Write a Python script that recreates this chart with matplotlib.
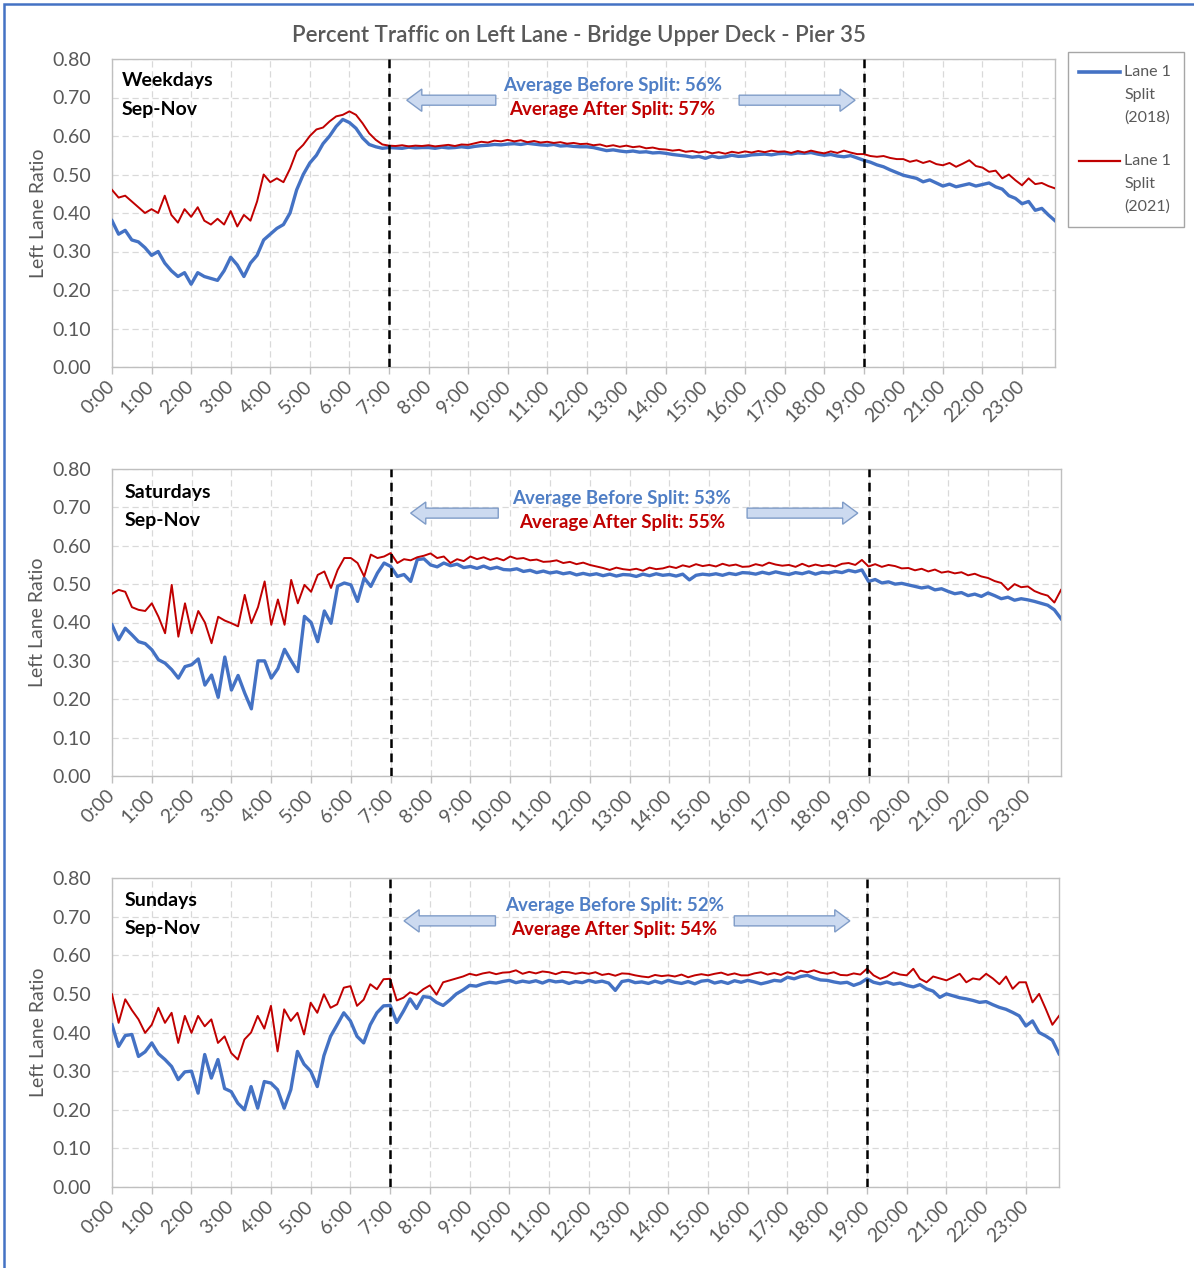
import numpy as np
import matplotlib
matplotlib.use("Agg")
import matplotlib.pyplot as plt
from matplotlib.patches import FancyArrow, Rectangle
from matplotlib.lines import Line2D

plt.rcParams['font.family'] = ['Lato', 'DejaVu Sans']

# ---------------- data ----------------
minutes = np.arange(0, 24 * 60, 10)          # 10-minute categories
hours = minutes / 60.0
hour_ticks = list(range(24))
hour_labels = [f"{h}:00" for h in hour_ticks]
y_ticks = [0.0, 0.1, 0.2, 0.3, 0.4, 0.5, 0.6, 0.7, 0.8]

weekday_2018 = [
    0.380, 0.345, 0.355, 0.330, 0.325, 0.310,
    0.290, 0.300, 0.270, 0.250, 0.235, 0.245,
    0.215, 0.245, 0.235, 0.230, 0.225, 0.250,
    0.285, 0.265, 0.235, 0.270, 0.290, 0.330,
    0.345, 0.360, 0.370, 0.400, 0.460, 0.500,
    0.530, 0.550, 0.580, 0.600, 0.625, 0.643,
    0.635, 0.620, 0.595, 0.578, 0.572, 0.568,
    0.570, 0.569, 0.568, 0.571, 0.569, 0.570,
    0.570, 0.568, 0.571, 0.569, 0.570, 0.572,
    0.570, 0.573, 0.575, 0.576, 0.578, 0.577,
    0.579, 0.580, 0.578, 0.581, 0.579, 0.577,
    0.576, 0.578, 0.574, 0.575, 0.573, 0.572,
    0.572, 0.570, 0.566, 0.562, 0.564, 0.561,
    0.559, 0.561, 0.558, 0.559, 0.556, 0.557,
    0.555, 0.552, 0.550, 0.548, 0.545, 0.547,
    0.542, 0.548, 0.544, 0.546, 0.550, 0.547,
    0.548, 0.551, 0.552, 0.553, 0.551, 0.554,
    0.555, 0.553, 0.556, 0.555, 0.557, 0.553,
    0.550, 0.552, 0.548, 0.546, 0.549, 0.543,
    0.537, 0.532, 0.525, 0.520, 0.512, 0.505,
    0.498, 0.494, 0.490, 0.481, 0.486, 0.478,
    0.470, 0.475, 0.468, 0.472, 0.476, 0.470,
    0.474, 0.478, 0.468, 0.462, 0.445, 0.438,
    0.424, 0.430, 0.407, 0.412, 0.395, 0.380,
]
weekday_2021 = [
    0.460, 0.440, 0.445, 0.430, 0.415, 0.400,
    0.410, 0.400, 0.445, 0.395, 0.375, 0.410,
    0.390, 0.415, 0.380, 0.370, 0.385, 0.370,
    0.405, 0.365, 0.395, 0.380, 0.430, 0.500,
    0.480, 0.490, 0.480, 0.515, 0.560, 0.577,
    0.600, 0.617, 0.622, 0.638, 0.651, 0.655,
    0.664, 0.655, 0.633, 0.607, 0.590, 0.578,
    0.575, 0.574, 0.576, 0.573, 0.575, 0.574,
    0.576, 0.573, 0.575, 0.577, 0.574, 0.578,
    0.577, 0.581, 0.585, 0.583, 0.588, 0.586,
    0.590, 0.586, 0.589, 0.584, 0.587, 0.583,
    0.585, 0.582, 0.584, 0.580, 0.582, 0.579,
    0.580, 0.576, 0.578, 0.573, 0.576, 0.572,
    0.575, 0.571, 0.573, 0.568, 0.570, 0.566,
    0.565, 0.562, 0.564, 0.559, 0.561, 0.557,
    0.560, 0.555, 0.558, 0.554, 0.559, 0.556,
    0.560, 0.557, 0.561, 0.558, 0.562, 0.559,
    0.560, 0.556, 0.561, 0.557, 0.562, 0.558,
    0.555, 0.560, 0.556, 0.562, 0.557, 0.553,
    0.553, 0.548, 0.546, 0.548, 0.543, 0.540,
    0.540, 0.533, 0.537, 0.530, 0.535, 0.527,
    0.524, 0.530, 0.520, 0.528, 0.537, 0.522,
    0.518, 0.507, 0.510, 0.490, 0.500, 0.485,
    0.472, 0.490, 0.475, 0.478, 0.470, 0.464,
]
saturday_2018 = [
    0.394, 0.355, 0.385, 0.368, 0.350, 0.345,
    0.329, 0.303, 0.294, 0.277, 0.255, 0.285,
    0.290, 0.305, 0.237, 0.263, 0.205, 0.310,
    0.224, 0.262, 0.216, 0.175, 0.300, 0.300,
    0.255, 0.280, 0.330, 0.300, 0.272, 0.416,
    0.400, 0.350, 0.430, 0.398, 0.495, 0.503,
    0.498, 0.455, 0.516, 0.494, 0.529, 0.555,
    0.546, 0.520, 0.525, 0.507, 0.564, 0.566,
    0.550, 0.545, 0.555, 0.548, 0.552, 0.543,
    0.546, 0.541, 0.547, 0.540, 0.544, 0.538,
    0.537, 0.540, 0.533, 0.536, 0.530, 0.534,
    0.529, 0.532, 0.527, 0.530, 0.524, 0.528,
    0.524, 0.527, 0.522, 0.526, 0.521, 0.525,
    0.524, 0.520, 0.526, 0.522, 0.527, 0.523,
    0.525, 0.521, 0.526, 0.511, 0.523, 0.526,
    0.524, 0.527, 0.523, 0.528, 0.525, 0.530,
    0.529, 0.526, 0.531, 0.527, 0.532, 0.528,
    0.525, 0.530, 0.527, 0.532, 0.526, 0.531,
    0.529, 0.533, 0.530, 0.536, 0.532, 0.537,
    0.507, 0.512, 0.503, 0.506, 0.500, 0.502,
    0.498, 0.494, 0.490, 0.493, 0.485, 0.488,
    0.481, 0.475, 0.478, 0.470, 0.474, 0.468,
    0.477, 0.470, 0.462, 0.466, 0.458, 0.462,
    0.459, 0.455, 0.450, 0.445, 0.433, 0.410,
]
saturday_2021 = [
    0.475, 0.485, 0.480, 0.440, 0.433, 0.430,
    0.450, 0.415, 0.372, 0.498, 0.363, 0.450,
    0.372, 0.430, 0.400, 0.346, 0.415, 0.405,
    0.398, 0.390, 0.472, 0.398, 0.440, 0.507,
    0.394, 0.460, 0.394, 0.511, 0.450, 0.498,
    0.480, 0.524, 0.533, 0.490, 0.537, 0.568,
    0.568, 0.555, 0.520, 0.577, 0.568, 0.572,
    0.581, 0.555, 0.565, 0.562, 0.570, 0.574,
    0.580, 0.568, 0.572, 0.555, 0.565, 0.560,
    0.572, 0.565, 0.570, 0.563, 0.568, 0.562,
    0.572, 0.566, 0.568, 0.562, 0.564, 0.558,
    0.559, 0.562, 0.555, 0.558, 0.552, 0.556,
    0.550, 0.546, 0.542, 0.537, 0.543, 0.539,
    0.537, 0.540, 0.535, 0.543, 0.539, 0.541,
    0.546, 0.542, 0.549, 0.545, 0.552, 0.547,
    0.550, 0.546, 0.553, 0.548, 0.551, 0.545,
    0.546, 0.552, 0.548, 0.556, 0.551, 0.548,
    0.550, 0.545, 0.553, 0.546, 0.551, 0.547,
    0.550, 0.546, 0.553, 0.555, 0.550, 0.563,
    0.546, 0.552, 0.545, 0.550, 0.547, 0.541,
    0.542, 0.536, 0.540, 0.533, 0.538, 0.530,
    0.533, 0.528, 0.531, 0.523, 0.527, 0.520,
    0.516, 0.508, 0.503, 0.485, 0.500, 0.492,
    0.494, 0.482, 0.475, 0.470, 0.452, 0.485,
]
sunday_2018 = [
    0.420, 0.364, 0.392, 0.395, 0.338, 0.350,
    0.373, 0.345, 0.330, 0.312, 0.278, 0.298,
    0.300, 0.243, 0.343, 0.282, 0.330, 0.255,
    0.247, 0.217, 0.200, 0.260, 0.204, 0.273,
    0.269, 0.252, 0.204, 0.252, 0.351, 0.318,
    0.300, 0.260, 0.340, 0.390, 0.420, 0.451,
    0.430, 0.390, 0.373, 0.420, 0.451, 0.469,
    0.470, 0.426, 0.455, 0.487, 0.462, 0.493,
    0.491, 0.478, 0.470, 0.484, 0.500, 0.510,
    0.522, 0.520, 0.526, 0.530, 0.528, 0.532,
    0.535, 0.529, 0.533, 0.530, 0.534, 0.528,
    0.535, 0.531, 0.533, 0.527, 0.532, 0.529,
    0.535, 0.530, 0.533, 0.528, 0.509, 0.532,
    0.535, 0.529, 0.531, 0.527, 0.533, 0.528,
    0.535, 0.530, 0.527, 0.532, 0.526, 0.533,
    0.535, 0.528, 0.532, 0.527, 0.534, 0.530,
    0.535, 0.531, 0.526, 0.530, 0.535, 0.533,
    0.543, 0.539, 0.545, 0.548, 0.541, 0.536,
    0.535, 0.531, 0.528, 0.530, 0.522, 0.528,
    0.539, 0.530, 0.526, 0.531, 0.525, 0.528,
    0.522, 0.518, 0.524, 0.513, 0.507, 0.491,
    0.500, 0.495, 0.490, 0.487, 0.483, 0.478,
    0.480, 0.472, 0.465, 0.460, 0.452, 0.443,
    0.417, 0.430, 0.400, 0.391, 0.380, 0.345,
]
sunday_2021 = [
    0.499, 0.425, 0.486, 0.458, 0.434, 0.399,
    0.420, 0.464, 0.425, 0.451, 0.373, 0.443,
    0.399, 0.443, 0.416, 0.434, 0.373, 0.390,
    0.347, 0.330, 0.382, 0.400, 0.443, 0.410,
    0.469, 0.351, 0.460, 0.430, 0.451, 0.395,
    0.477, 0.451, 0.499, 0.464, 0.473, 0.516,
    0.520, 0.469, 0.485, 0.525, 0.512, 0.538,
    0.539, 0.483, 0.490, 0.504, 0.498, 0.512,
    0.522, 0.498, 0.530, 0.535, 0.540, 0.545,
    0.552, 0.548, 0.553, 0.556, 0.551, 0.555,
    0.556, 0.561, 0.552, 0.557, 0.553, 0.558,
    0.556, 0.551, 0.557, 0.556, 0.552, 0.555,
    0.552, 0.556, 0.549, 0.552, 0.547, 0.553,
    0.552, 0.548, 0.545, 0.543, 0.549, 0.546,
    0.548, 0.545, 0.550, 0.543, 0.548, 0.551,
    0.548, 0.552, 0.555, 0.549, 0.553, 0.548,
    0.548, 0.553, 0.556, 0.550, 0.554, 0.549,
    0.556, 0.552, 0.560, 0.556, 0.561, 0.555,
    0.552, 0.556, 0.549, 0.548, 0.553, 0.550,
    0.565, 0.548, 0.539, 0.545, 0.556, 0.550,
    0.548, 0.565, 0.539, 0.530, 0.545, 0.540,
    0.535, 0.543, 0.552, 0.530, 0.540, 0.537,
    0.552, 0.540, 0.525, 0.545, 0.513, 0.530,
    0.530, 0.478, 0.500, 0.461, 0.420, 0.443,
]

panel_names = ["Weekdays", "Saturdays", "Sundays"]
period_label = "Sep-Nov"
avg_before = [56, 53, 52]
avg_after = [57, 55, 54]
series_2018 = [weekday_2018, saturday_2018, sunday_2018]
series_2021 = [weekday_2021, saturday_2021, sunday_2021]
legend_labels = [["Lane 1", "Split", "(2018)"], ["Lane 1", "Split", "(2021)"]]
split_start, split_end = 7, 19
title = "Percent Traffic on Left Lane - Bridge Upper Deck - Pier 35"

# ---------------- styling ----------------
W, H = 1194, 1268
BLUE = '#4472C4'
RED = '#C00000'
GREY_TXT = '#595959'
fig = plt.figure(figsize=(W / 100, H / 100), dpi=100)
fig.patch.set_facecolor('white')

def px_rect(l, t, r, b):
    return [l / W, 1 - b / H, (r - l) / W, (b - t) / H]

rects = [px_rect(112, 59, 1055, 367), px_rect(112, 469, 1061, 776), px_rect(112, 878, 1059, 1187)]
# per-panel layout: (arrow y, left tip, left tail, right tail, right tip, text x, name y1, name y2, avg y1, avg y2)
layouts = [
    (0.693, 7.45, 9.70, 15.85, 18.78, 12.65, 0.743, 0.669, 0.730, 0.668),
    (0.685, 7.50, 9.70, 15.95, 18.73, 12.80, 0.740, 0.667, 0.724, 0.661),
    (0.689, 7.35, 9.65, 15.66, 18.57, 12.65, 0.742, 0.668, 0.728, 0.666),
]

for i in range(3):
    ax = fig.add_axes(rects[i])
    ax.plot(hours, series_2018[i], color=BLUE, lw=2.4, zorder=3, solid_joinstyle='round')
    ax.plot(hours, series_2021[i], color=RED, lw=1.4, zorder=4, solid_joinstyle='round')
    ax.set_xlim(0, hours[-1])
    ax.set_ylim(0, 0.8)
    ax.set_xticks(hour_ticks)
    ax.set_xticklabels(hour_labels, rotation=45, ha='right', va='center', rotation_mode='anchor')
    ax.set_yticks(y_ticks)
    ax.set_yticklabels([f"{v:.2f}" for v in y_ticks])
    ax.tick_params(axis='y', length=0, pad=15, labelsize=14, labelcolor=GREY_TXT)
    ax.tick_params(axis='x', length=5, width=1, color='#BFBFBF', pad=7, labelsize=14, labelcolor=GREY_TXT)
    ax.grid(True, color='#D9D9D9', linestyle=(0, (5, 3)), lw=0.9)
    ax.set_axisbelow(True)
    for sp in ax.spines.values():
        sp.set_color('#BFBFBF')
        sp.set_linewidth(1.0)
    ax.set_ylabel("Left Lane Ratio", fontsize=14, color=GREY_TXT, va='center')
    ax.yaxis.set_label_coords(-0.078, 0.5)

    for xv in (split_start, split_end):
        ax.axvline(xv, color='black', lw=1.8, linestyle=(0, (3.5, 2.2)), zorder=5)

    ay, ltip, ltail, rtail, rtip, tx, ny1, ny2, ty1, ty2 = layouts[i]
    for x0, x1 in ((ltail, ltip), (rtail, rtip)):
        arr = FancyArrow(x0, ay, x1 - x0, 0, width=0.026, head_width=0.058,
                         head_length=0.38, length_includes_head=True,
                         fc='#CCDAF0', ec='#7F9CC8', lw=1.0, zorder=6)
        ax.add_patch(arr)
    ax.text(tx, ty1, f"Average Before Split: {avg_before[i]}%", color='#4F7EC5',
            fontsize=13.5, fontweight='bold', ha='center', va='center', zorder=7)
    ax.text(tx, ty2, f"Average After Split: {avg_after[i]}%", color=RED,
            fontsize=13.5, fontweight='bold', ha='center', va='center', zorder=7)
    xn = 0.010 if i == 0 else 0.013
    ax.text(xn, ny1, panel_names[i], transform=ax.get_yaxis_transform(),
            fontsize=14, fontweight='bold', color='black', ha='left', va='center')
    ax.text(xn, ny2, period_label, transform=ax.get_yaxis_transform(),
            fontsize=14, fontweight='bold', color='black', ha='left', va='center')

# title
fig.text(578.5 / W, 1 - 36 / H, title, ha='center', va='center', fontsize=16,
         fontweight='semibold', color=GREY_TXT)

# legend (manual, to match first-line handle alignment)
fig.add_artist(Rectangle((1068 / W, 1 - 227 / H), (1184 - 1068) / W, (227 - 52) / H,
                         transform=fig.transFigure, fill=False, ec='#A6A6A6', lw=1.0))
for j, (col, lw, y0) in enumerate(((BLUE, 2.6, 72), (RED, 1.6, 161))):
    fig.add_artist(Line2D([1079 / W, 1120 / W], [1 - y0 / H, 1 - y0 / H], color=col, lw=lw,
                          transform=fig.transFigure))
    for k, lab in enumerate(legend_labels[j]):
        fig.text(1124 / W, 1 - (y0 + 23 * k) / H, lab, ha='left', va='center', fontsize=11.5, color=GREY_TXT)

# blue outer frame (only top and left visible)
fig.add_artist(Rectangle((4 / W, -0.05), 1.2, 1.05 - 4 / H, transform=fig.transFigure,
                         fill=False, ec=BLUE, lw=1.8))

fig.savefig('out.png', dpi=100)
